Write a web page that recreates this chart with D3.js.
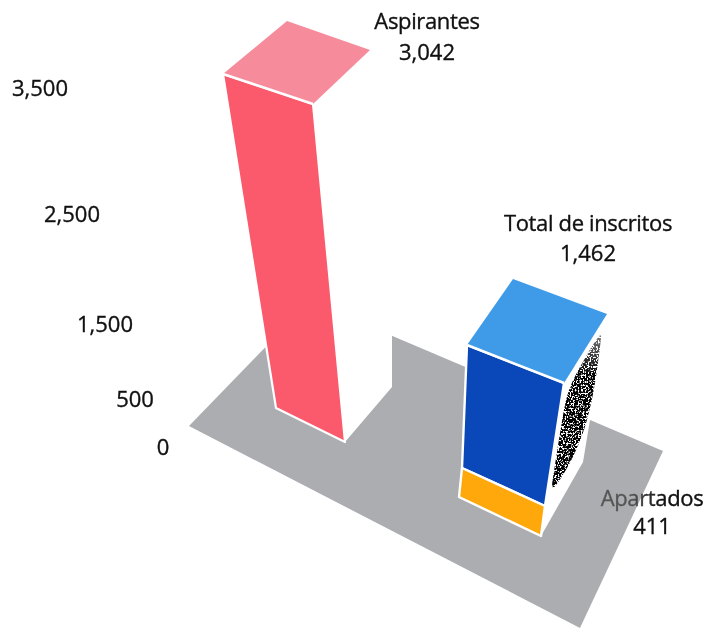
<!DOCTYPE html>
<html><head><meta charset="utf-8">
<script src="https://cdn.jsdelivr.net/npm/d3@7"></script>
<style>html,body{margin:0;background:#fff}svg{display:block;filter:blur(0.45px)}text{font-family:"Open Sans",sans-serif;fill:#111;stroke:#111;stroke-width:0.35px;text-anchor:middle}</style>
</head><body><svg id="c" width="707" height="628"></svg>
<script>
const axisTicks = [0, 500, 1500, 2500, 3500];
const axisLabels = ["0", "500", "1,500", "2,500", "3,500"];
const categories = ["Aspirantes", "Total de inscritos", "Apartados"];
const values = [3042, 1462, 411];
const valueLabels = ["3,042", "1,462", "411"];
const faceColors = {redFront:"#fa5a6c", redTop:"#f68b9b", blueFront:"#0a48b9", blueTop:"#3f9ae8", orange:"#ffa80c", floor:"#acadb1"};

const svg = d3.select("#c"), defs = svg.append("defs");
const line = d3.line();
const poly = (pts, fill, extra) => svg.append("path").attr("d", line(pts) + "Z").attr("fill", fill)
  .attr("stroke", extra ? extra.stroke : "none").attr("stroke-width", extra ? extra.w : 0).attr("stroke-linejoin","round");
const corner = (domain, xs, ys) => { const x = d3.scaleLinear(domain, xs), y = d3.scaleLinear(domain, ys); return v => [x(v), y(v)]; };

const axisX = d3.scaleLinear(axisTicks, [163, 135, 105, 72, 40]);
const axisY = d3.scaleLinear(axisTicks, [447, 399, 324, 214, 88]);

// floor
poly([[189,426],[310,301],[663,451],[580,628]], faceColors.floor);

// red bar
const rD = [0, values[0]];
const rL = corner(rD, [276, 223], [408, 74]);
const rR = corner(rD, [345, 313], [442, 104]);
const rTop = values[0];
poly([rR(rTop), [371,46], [392,60], [392,387], rR(0)], "#fff");
poly([rL(0), rR(0), rR(rTop), rL(rTop)], faceColors.redFront, {stroke:"#fff", w:2.2});
poly([rL(rTop), [287,21], [370,50], rR(rTop)], faceColors.redTop);
svg.append("line").attr("x1",rL(rTop)[0]).attr("y1",rL(rTop)[1]).attr("x2",rR(rTop)[0]).attr("y2",rR(rTop)[1]).attr("stroke","#fff").attr("stroke-width",2.6);

// blue / orange bar
const bD = [0, values[2], values[1]];
const bL = corner(bD, [459, 462, 467], [497, 468, 345]);
const bR = corner(bD, [541, 545, 564], [536, 506, 383]);
const bTop = values[1], bSplit = values[2];
poly([bR(bTop), [607,313], [590,420], [583,462], bR(0)], "#fff");
poly([bL(bSplit), bR(bSplit), bR(bTop), bL(bTop)], faceColors.blueFront, {stroke:"#fff", w:2.4});
poly([bL(0), bR(0), bR(bSplit), bL(bSplit)], faceColors.orange, {stroke:"#fff", w:2.4});
poly([bL(bTop), [513,279], [607,314], bR(bTop)], faceColors.blueTop);
svg.append("line").attr("x1",bL(bTop)[0]).attr("y1",bL(bTop)[1]).attr("x2",bR(bTop)[0]).attr("y2",bR(bTop)[1]).attr("stroke","#fff").attr("stroke-width",2.6);

// stippled shadow on the white side
const f = defs.append("filter").attr("id","stipple").attr("x",0).attr("y",0).attr("width",1).attr("height",1);
f.append("feTurbulence").attr("type","fractalNoise").attr("baseFrequency",0.6).attr("numOctaves",3).attr("seed",4);
f.append("feColorMatrix").attr("values","0 0 0 0 0  0 0 0 0 0  0 0 0 0 0  0 0 0 -9 5.6");
defs.append("clipPath").attr("id","lens").append("path")
  .attr("d", d3.line().curve(d3.curveBasisClosed)([[603,328],[600,345],[596,380],[588,420],[574,458],[550,496],[553,478],[558,445],[563,415],[568,388],[585,358]]));
const fade = defs.append("linearGradient").attr("id","densF").attr("x1",0).attr("y1",0).attr("x2",0).attr("y2",1);
[[0,0.35],[0.3,1],[1,1]].forEach(s => fade.append("stop").attr("offset",s[0]).attr("stop-color","#fff").attr("stop-opacity",s[1]));
defs.append("mask").attr("id","dens").attr("maskUnits","userSpaceOnUse").attr("x",540).attr("y",320).attr("width",70).attr("height",185)
  .append("rect").attr("x",540).attr("y",320).attr("width",70).attr("height",185).attr("fill","url(#densF)");
svg.append("g").attr("clip-path","url(#lens)").attr("mask","url(#dens)").append("rect").attr("x",540).attr("y",320).attr("width",70).attr("height",185).attr("filter","url(#stipple)");

// axis labels
const fs = 22;
svg.append("g").selectAll("text").data(axisTicks).join("text")
  .attr("x", d => axisX(d)).attr("y", d => axisY(d) + 8).attr("font-size", fs).text((d,i) => axisLabels[i]);

// callouts
const grad = defs.append("linearGradient").attr("id","fade");
grad.append("stop").attr("offset","0.3").attr("stop-color","#555");
grad.append("stop").attr("offset","0.6").attr("stop-color","#111");
const callouts = [[427,29,60],[588,231,261],[652,506,534]];
callouts.forEach((c,i) => {
  const t = svg.append("text").attr("x",c[0]).attr("y",c[1]).attr("font-size",fs).attr("letter-spacing",-0.35).text(categories[i]);
  if (i === 2) t.style("fill","url(#fade)").style("stroke","url(#fade)");
  svg.append("text").attr("x", c[0]).attr("y",c[2]).attr("font-size",fs).text(valueLabels[i]);
});
</script></body></html>
